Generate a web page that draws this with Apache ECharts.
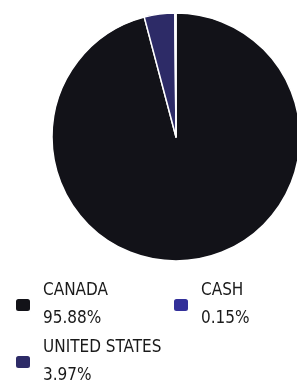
<!DOCTYPE html>
<html lang="en">
<head>
    <meta charset="UTF-8">
    <title>Geographic allocation</title>
    <script src="https://cdn.jsdelivr.net/npm/echarts@6/dist/echarts.min.js"></script>
    <style>
        html, body { margin: 0; padding: 0; background: #fff; }
    </style>
</head>
<body>
    <div id="chart" style="width: 297px;height:381px;"></div>
    <script>
        // data
        var names = ['CANADA', 'UNITED STATES', 'CASH'];
        var values = [95.88, 3.97, 0.15];
        var colors = ['#121218', '#2d2b67', '#33309a'];

        var pieData = names.map(function (n, i) {
            return { name: n, value: values[i], itemStyle: { color: colors[i] } };
        });

        var font = '"DejaVu Sans Condensed", "Noto Sans", sans-serif';

        // one legend per item so they sit in the two-column grid
        var legendPos = [
            { left: 9, top: 272 },   // CANADA
            { left: 9, top: 329 },   // UNITED STATES
            { left: 167, top: 272 }  // CASH
        ];
        var legends = names.map(function (n, i) {
            return {
                data: [n],
                left: legendPos[i].left,
                top: legendPos[i].top,
                icon: 'roundRect',
                itemWidth: 16,
                itemHeight: 14,
                itemGap: 0,
                selectedMode: false,
                textStyle: {
                    fontFamily: font,
                    fontSize: 17,
                    color: '#1a1a1a',
                    lineHeight: 28,
                    padding: [0, 0, 0, 7]
                },
                formatter: function (name) {
                    return name + '\n' + values[names.indexOf(name)].toFixed(2) + '%';
                }
            };
        });

        var myChart = echarts.init(document.getElementById('chart'));
        myChart.setOption({
            animation: false,
            legend: legends,
            series: [{
                type: 'pie',
                center: [176, 137],
                radius: [0, 124],
                startAngle: 90,
                clockwise: true,
                label: { show: false },
                labelLine: { show: false },
                itemStyle: { borderColor: '#fff', borderWidth: 1.5 },
                emphasis: { disabled: true },
                data: pieData
            }]
        });
    </script>
</body>
</html>
